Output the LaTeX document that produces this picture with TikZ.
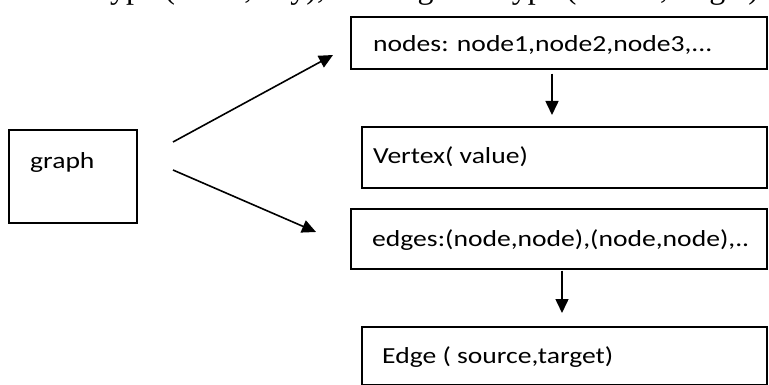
\documentclass[tikz,border=0pt]{standalone}
\usepackage{fontspec}
\setmainfont{Carlito}
\newfontfamily\serifcut{Liberation Serif}
\usetikzlibrary{arrows.meta}
\newcommand{\wtxt}[1]{\scalebox{1.2}[1]{#1}}
\begin{document}
\begin{tikzpicture}[x=1pt,y=-1pt,
  box/.style={draw, line width=1.3pt, rectangle, inner sep=0pt},
  txt/.style={font=\fontsize{23}{28}\selectfont, inner sep=0pt, anchor=west},
  arr/.style={line width=1.6pt, -{Triangle[length=14pt,width=13pt]}}]
\useasboundingbox (0,0) rectangle (769,385);
\begin{scope}
\clip (0,0) rectangle (769,385);
\node[anchor=base west, font=\serifcut\fontsize{32}{38}\selectfont, inner sep=0pt] (cut) at (101,-1) {type (value, key), and edges of type (source, target)};
% boxes
\node[box, minimum width=128pt, minimum height=93pt] (graph) at (73,176.5) {};
\node[txt] (graphtxt) at (30,162) {\wtxt{graph}};
\node[box, minimum width=416pt, minimum height=52pt] (nodes) at (559,43) {};
\node[txt] (nodestxt) at (373,45) {\wtxt{nodes: node1,node2,node3,...}};
\node[box, minimum width=405pt, minimum height=61pt] (vertex) at (564.5,157.5) {};
\node[txt] (vertextxt) at (373,157) {\wtxt{Vertex( value)}};
\node[box, minimum width=416pt, minimum height=60pt] (edges) at (559,239) {};
\node[txt] (edgestxt) at (372,240) {\wtxt{edges:(node,node),(node,node),..}};
\node[box, minimum width=405pt, minimum height=58pt] (edge) at (564.5,356) {};
\node[txt] (edgetxt) at (382,357) {\wtxt{Edge ( source,target)}};
% connectors
\coordinate (a1s) at (173,142);
\coordinate (a1e) at (333,55);
\coordinate (a2s) at (173,170);
\coordinate (a2e) at (316,232);
\draw[arr] (a1s) -- (a1e);
\draw[arr] (a2s) -- (a2e);
\draw[arr] (nodes.south -| 552,0) ++(0,4) -- (552,115);
\draw[arr] (edges.south -| 562,0) ++(0,1) -- (562,313);
\end{scope}
\end{tikzpicture}
\end{document}
